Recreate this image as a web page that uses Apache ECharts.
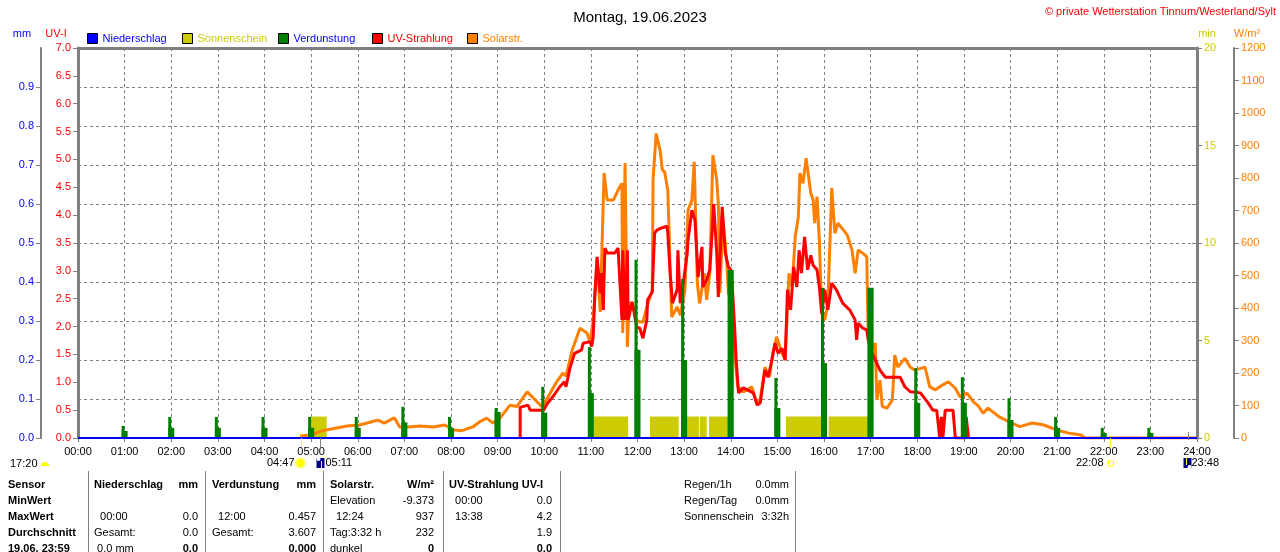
<!DOCTYPE html>
<html>
<head>
<meta charset="utf-8">
<title>Montag, 19.06.2023</title>
<script src="https://cdn.jsdelivr.net/npm/echarts@6/dist/echarts.min.js"></script>
<style>
    html, body { margin: 0; padding: 0; background: #fff; }
    #chart { width: 1280px; height: 552px; }
</style>
</head>
<body>
<div id="chart"></div>
<script>
// Texte
var titelText = 'Montag, 19.06.2023';
var copyrightText = '\u00a9 private Wetterstation Tinnum/Westerland/Sylt';
var tageslaenge = '17:20';

// Niederschlag (mm), [Zeit, Wert]
var niederschlag = [['00:00', 0], ['24:00', 0]];

// Verdunstung (mm) je Stunde, schmaler Balken und breiter Sockel
var verdunstung = [
    ['01:00', 0.031], ['02:00', 0.054], ['03:00', 0.054], ['04:00', 0.054], ['05:00', 0.054],
    ['06:00', 0.054], ['07:00', 0.080], ['08:00', 0.054], ['09:00', 0.077], ['10:00', 0.131],
    ['11:00', 0.233], ['12:00', 0.457], ['13:00', 0.408], ['14:00', 0.431], ['15:00', 0.154],
    ['16:00', 0.385], ['17:00', 0.385], ['18:00', 0.179], ['19:00', 0.156], ['20:00', 0.102],
    ['21:00', 0.054], ['22:00', 0.026], ['23:00', 0.026]
];
var verdunstungSockel = [
    ['01:00', 0.018], ['02:00', 0.026], ['03:00', 0.026], ['04:00', 0.026], ['05:00', 0.026],
    ['06:00', 0.026], ['07:00', 0.040], ['08:00', 0.026], ['09:00', 0.067], ['10:00', 0.065],
    ['11:00', 0.115], ['12:00', 0.226], ['13:00', 0.200], ['14:00', 0.431], ['15:00', 0.077],
    ['16:00', 0.192], ['17:00', 0.385], ['18:00', 0.090], ['19:00', 0.090], ['20:00', 0.046],
    ['21:00', 0.026], ['22:00', 0.013], ['23:00', 0.013]
];

// Sonnenschein (min), [von, bis, Wert]
var sonnenschein = [
    ['05:00', '05:20', 1.1], ['11:04', '11:48', 1.1], ['12:16', '12:53', 1.1], ['12:56', '13:19', 1.1],
    ['13:20', '13:29', 1.1], ['13:32', '13:58', 1.1], ['15:11', '16:03', 1.1], ['16:06', '16:58', 1.1]
];

// UV-Strahlung (UV-I), [Zeit, Wert]
var uvStrahlung = [
    ['09:29', 0], ['09:29', 0.55], ['09:39', 0.59], ['09:42', 0.5], ['09:59', 0.5], ['10:04', 0.62],
    ['10:11', 0.74], ['10:20', 0.92], ['10:26', 1.01], ['10:28', 0.92], ['10:33', 1.25], ['10:39', 1.52],
    ['10:48', 1.58], ['10:50', 1.7], ['10:59', 1.73], ['11:01', 1.64], ['11:03', 1.82], ['11:05', 2.53],
    ['11:08', 3.25], ['11:12', 2.6], ['11:14', 2.96], ['11:16', 2.3], ['11:18', 3.41], ['11:21', 3.32],
    ['11:31', 3.32], ['11:35', 3.41], ['11:40', 2.12], ['11:41', 3.37], ['11:44', 2.12], ['11:47', 3.37],
    ['11:48', 2.12], ['11:53', 2.44], ['11:55', 2.3], ['11:59', 1.99], ['12:03', 1.97], ['12:07', 1.79],
    ['12:12', 2.12], ['12:13', 2.48], ['12:19', 2.62], ['12:22', 3.68], ['12:25', 3.73], ['12:31', 3.77],
    ['12:38', 3.8], ['12:39', 3.68], ['12:42', 2.96], ['12:45', 2.42], ['12:51', 2.66], ['12:52', 3.37],
    ['12:55', 2.42], ['12:59', 2.78], ['13:04', 3.32], ['13:05', 3.55], ['13:10', 4.09], ['13:14', 3.91],
    ['13:18', 2.89], ['13:23', 3.43], ['13:24', 2.71], ['13:29', 2.84], ['13:33', 3.02], ['13:36', 3.68],
    ['13:38', 4.2], ['13:42', 3.32], ['13:44', 2.53], ['13:49', 4.15], ['13:53', 3.32], ['13:57', 3.07],
    ['14:00', 3.02], ['14:02', 2.71], ['14:05', 1.99], ['14:07', 1.4], ['14:10', 0.81], ['14:16', 0.9],
    ['14:22', 0.86], ['14:29', 0.81], ['14:34', 0.59], ['14:38', 0.63], ['14:44', 1.22], ['14:48', 1.09],
    ['14:53', 1.4], ['14:57', 1.7], ['15:01', 1.52], ['15:06', 1.61], ['15:10', 1.4], ['15:13', 2.66],
    ['15:17', 2.3], ['15:21', 3.07], ['15:25', 2.71], ['15:28', 3.37], ['15:31', 2.96], ['15:35', 3.61],
    ['15:39', 3.02], ['15:43', 3.28], ['15:46', 3.1], ['15:51', 3.02], ['15:54', 2.71], ['15:57', 2.24],
    ['16:01', 2.66], ['16:05', 2.3], ['16:10', 2.78], ['16:16', 2.66], ['16:24', 2.42], ['16:33', 2.3],
    ['16:40', 2.12], ['16:42', 1.76], ['16:44', 2.06], ['16:50', 1.97], ['16:55', 1.94], ['16:57', 1.76],
    ['17:02', 1.52], ['17:06', 1.4], ['17:12', 1.22], ['17:19', 1.09], ['17:38', 1.09], ['17:44', 0.92],
    ['17:51', 0.83], ['18:04', 0.81], ['18:14', 0.63], ['18:20', 0.5], ['18:25', 0.5], ['18:29', 0],
    ['18:31', 0.38], ['18:33', 0], ['18:36', 0.5], ['18:46', 0.5], ['18:49', 0], ['19:02', 0],
    ['19:03', 0.38], ['19:05', 0.38], ['19:06', 0]
];

// Solarstrahlung (W/m²), [Zeit, Wert]
var solarStrahlung = [
    ['04:46', 6], ['04:59', 9], ['05:14', 22], ['05:31', 30], ['05:46', 37], ['06:02', 40], ['06:12', 46],
    ['06:26', 55], ['06:34', 46], ['06:47', 62], ['06:54', 34], ['07:05', 34], ['07:20', 37], ['07:37', 34],
    ['07:52', 40], ['08:03', 25], ['08:13', 22], ['08:28', 34], ['08:37', 50], ['08:46', 61], ['08:54', 46],
    ['09:03', 61], ['09:16', 101], ['09:25', 97], ['09:38', 142], ['09:46', 123], ['09:57', 96], ['10:04', 123],
    ['10:16', 173], ['10:24', 200], ['10:28', 190], ['10:36', 271], ['10:46', 338], ['10:55', 323], ['10:59', 295],
    ['11:03', 363], ['11:08', 548], ['11:12', 388], ['11:17', 815], ['11:21', 732], ['11:29', 732], ['11:35', 763],
    ['11:40', 784], ['11:41', 323], ['11:44', 846], ['11:47', 280], ['11:49', 403], ['11:53', 418], ['11:59', 363],
    ['12:03', 357], ['12:07', 357], ['12:12', 403], ['12:19', 455], ['12:20', 794], ['12:24', 937], ['12:29', 886],
    ['12:32', 825], ['12:35', 818], ['12:39', 763], ['12:42', 526], ['12:44', 372], ['12:51', 403], ['12:55', 378],
    ['13:01', 455], ['13:05', 701], ['13:10', 732], ['13:13', 850], ['13:17', 476], ['13:20', 414], ['13:26', 507],
    ['13:29', 425], ['13:33', 507], ['13:37', 870], ['13:42', 794], ['13:44', 722], ['13:46', 446], ['13:50', 670],
    ['13:55', 538], ['13:57', 446], ['14:02', 403], ['14:05', 261], ['14:09', 158], ['14:16', 142], ['14:21', 148],
    ['14:27', 158], ['14:34', 105], ['14:38', 120], ['14:44', 218], ['14:50', 188], ['14:54', 261], ['14:59', 311],
    ['15:06', 261], ['15:10', 240], ['15:15', 507], ['15:19', 466], ['15:23', 620], ['15:27', 681], ['15:29', 815],
    ['15:33', 784], ['15:37', 861], ['15:39', 825], ['15:43', 753], ['15:46', 732], ['15:48', 661], ['15:51', 743],
    ['15:54', 609], ['15:57', 384], ['16:01', 363], ['16:05', 414], ['16:10', 769], ['16:14', 630], ['16:18', 661],
    ['16:30', 624], ['16:36', 579], ['16:40', 507], ['16:44', 579], ['16:50', 568], ['16:55', 558], ['16:57', 301],
    ['17:02', 271], ['17:06', 292], ['17:08', 117], ['17:12', 178], ['17:15', 97], ['17:21', 92], ['17:28', 117],
    ['17:31', 255], ['17:35', 218], ['17:44', 245], ['17:51', 218], ['17:57', 209], ['18:10', 218], ['18:16', 158],
    ['18:23', 148], ['18:29', 158], ['18:40', 173], ['18:49', 153], ['18:55', 127], ['19:04', 138], ['19:12', 112],
    ['19:19', 97], ['19:25', 76], ['19:31', 92], ['19:45', 66], ['19:58', 50], ['20:12', 35], ['20:28', 46],
    ['20:43', 40], ['20:59', 25], ['21:15', 15], ['21:31', 9], ['21:36', 0], ['24:00', 0]
];

// Sonne / Mond
var ereignisse = [
    ['04:47', 'Sonnenaufgang'], ['05:11', 'Mondaufgang'], ['22:08', 'Sonnenuntergang'], ['23:48', 'Monduntergang']
];

// Tabelle unten
var tabZeilen = ['Sensor', 'MinWert', 'MaxWert', 'Durchschnitt', '19.06. 23:59'];
var tabNiederschlag = [['Niederschlag', 'mm'], ['', ''], ['  00:00', '0.0'], ['Gesamt:', '0.0'], [' 0.0 mm', '0.0']];
var tabVerdunstung = [['Verdunstung', 'mm'], ['', ''], ['  12:00', '0.457'], ['Gesamt:', '3.607'], ['', '0.000']];
var tabSolar = [['Solarstr.', 'W/m\u00b2'], ['Elevation', '-9.373'], ['  12:24', '937'], ['Tag:3:32 h', '232'], ['dunkel', '0']];
var tabUV = [['UV-Strahlung UV-I', ''], ['  00:00', '0.0'], ['  13:38', '4.2'], ['', '1.9'], ['', '0.0']];
var tabInfo = [['Regen/1h', '0.0mm'], ['Regen/Tag', '0.0mm'], ['Sonnenschein', '3:32h']];

(function () {
    'use strict';

    var FONT = '"Liberation Sans", Arial, sans-serif';
    var GRAU = '#808080';
    var BLAU = '#0000ff';
    var GELB = '#cccc00';
    var GRUEN = '#008000';
    var ROT = '#ff0000';
    var ORANGE = '#ff8000';

    function toMin(s) {
        var p = s.split(':');
        return Number(p[0]) * 60 + Number(p[1]);
    }

    function pairs(list) {
        return list.map(function (d) { return [toMin(d[0]), d[1]]; });
    }

    function uhrzeit(v) {
        var h = Math.round(v / 60);
        return (h < 10 ? '0' : '') + h + ':00';
    }

    function txt(x, y, text, align, bold, color) {
        return {
            type: 'text', silent: true,
            style: {
                x: x, y: y, text: text,
                align: align, textAlign: align,
                verticalAlign: 'middle', textVerticalAlign: 'middle',
                font: (bold ? 'bold ' : '') + '11px ' + FONT,
                fill: color || '#000'
            }
        };
    }

    function vline(x, y1, y2, color) {
        return {
            type: 'line', silent: true,
            shape: { x1: x, y1: y1, x2: x, y2: y2 },
            style: { stroke: color, lineWidth: 1 }
        };
    }

    function buildTable() {
        var rowsY = [485, 500.5, 516.5, 532.5, 548.5];
        var els = [];
        var cols = [
            { data: tabNiederschlag, l: 94, r: 198 },
            { data: tabVerdunstung, l: 212, r: 316 },
            { data: tabSolar, l: 330, r: 434 },
            { data: tabUV, l: 449, r: 552 }
        ];
        [88.5, 205.5, 323.5, 443.5, 560.5, 795.5].forEach(function (x) {
            els.push(vline(x, 471, 552, GRAU));
        });
        tabZeilen.forEach(function (t, i) {
            els.push(txt(8, rowsY[i], t, 'left', true));
        });
        cols.forEach(function (c) {
            c.data.forEach(function (row, i) {
                var last = i === c.data.length - 1;
                els.push(txt(c.l, rowsY[i], row[0], 'left', i === 0));
                els.push(txt(c.r, rowsY[i], row[1], 'right', i === 0 || last));
            });
        });
        tabInfo.forEach(function (row, i) {
            els.push(txt(684, rowsY[i], row[0], 'left', false));
            els.push(txt(789, rowsY[i], row[1], 'right', false));
        });
        return els;
    }

    function renderSonne(params, api) {
        var p0 = api.coord([api.value(0), api.value(2)]);
        var p1 = api.coord([api.value(1), 0]);
        return {
            type: 'rect',
            shape: { x: p0[0], y: p0[1], width: p1[0] - p0[0], height: p1[1] - p0[1] },
            style: { fill: GELB }
        };
    }

    function renderEreignis(params, api) {
        var e = ereignisse[params.dataIndex];
        var p = api.coord([api.value(0), 0]);
        var x = Math.round(p[0]) + 0.5;
        var y = p[1];
        var iy = y + 25;
        var sonne = e[1].indexOf('Sonne') === 0;
        var auf = e[1].indexOf('aufgang') > 0;
        var children = [];
        if (sonne) {
            children.push(vline(x, y, y + 9, '#ffff00'));
            if (auf) {
                children.push({ type: 'circle', shape: { cx: x - 1, cy: iy, r: 5 }, style: { fill: '#ffff00', stroke: '#ffff99', lineWidth: 2 } });
                children.push(txt(x - 7, iy, e[0], 'right', false));
            } else {
                children.push({ type: 'rect', shape: { x: x - 2, y: iy - 2, width: 5, height: 5 }, style: { fill: '#fff', stroke: '#ffff00', lineWidth: 1 } });
                children.push(txt(x - 7, iy, e[0], 'right', false));
            }
        } else {
            if (auf) {
                children.push(vline(x, y, y + 9, GRAU));
                children.push({ type: 'rect', shape: { x: x - 4, y: iy - 5, width: 8, height: 10 }, style: { fill: '#000080' } });
                children.push({ type: 'circle', shape: { cx: x - 2, cy: iy - 4, r: 2 }, style: { fill: '#fff' } });
                children.push(vline(x + 1, iy - 2, iy + 5, '#ffff00'));
                children.push(txt(x + 5, iy, e[0], 'left', false));
            } else {
                children.push(vline(x, y - 6, y + 2, GRAU));
                children.push({ type: 'rect', shape: { x: x - 5, y: iy - 5, width: 8, height: 10 }, style: { fill: '#000080' } });
                children.push({ type: 'circle', shape: { cx: x + 1, cy: iy + 4, r: 2 }, style: { fill: '#fff' } });
                children.push(vline(x - 2, iy - 5, iy + 2, '#ffff00'));
                children.push(txt(x + 3, iy, e[0], 'left', false));
            }
        }
        return { type: 'group', children: children };
    }

    function yAchse(o) {
        return {
            type: 'value',
            position: o.pos,
            offset: o.offset,
            min: o.min, max: o.max, interval: o.interval,
            name: o.name,
            nameLocation: 'end',
            nameGap: 9,
            nameTextStyle: { color: o.color, fontSize: 11, fontFamily: FONT, align: 'center', padding: o.namePad },
            axisLine: { show: true, onZero: false, lineStyle: { color: GRAU, width: o.lineWidth } },
            axisTick: { show: true, length: 5, lineStyle: { color: GRAU } },
            axisLabel: {
                color: o.color, fontSize: 11, fontFamily: FONT, margin: 7,
                showMaxLabel: o.showMax,
                formatter: o.fmt
            },
            splitLine: o.split ? { show: true, lineStyle: { color: GRAU, type: [3, 3], width: 1 } } : { show: false }
        };
    }

    // eine Legende je Eintrag, feste Raster-Abstände wie im Original
    function legende(left, name, farbe, textFarbe) {
        return {
            left: left,
            top: 28,
            icon: 'rect',
            itemWidth: 10,
            itemHeight: 10,
            selectedMode: false,
            textStyle: { fontSize: 11, fontFamily: FONT, color: textFarbe },
            data: [{ name: name, itemStyle: { color: farbe, borderColor: '#000', borderWidth: 1 } }]
        };
    }

    var chart = echarts.init(document.getElementById('chart'));

    var option = {
        backgroundColor: '#fff',
        animation: false,
        title: {
            text: titelText,
            left: 'center',
            top: 5,
            textStyle: { fontSize: 15, fontWeight: 'normal', color: '#000', fontFamily: FONT }
        },
        legend: [
            legende(82, 'Niederschlag', BLAU, BLAU),
            legende(177, 'Sonnenschein', GELB, GELB),
            legende(273, 'Verdunstung', GRUEN, BLAU),
            legende(367, 'UV-Strahlung', ROT, ROT),
            legende(462, 'Solarstr.', ORANGE, ORANGE)
        ],
        grid: { left: 78, right: 83, top: 48, bottom: 114, containLabel: false },
        xAxis: [{
            type: 'value', min: 0, max: 1440, interval: 60,
            axisLine: { onZero: false, lineStyle: { color: GRAU } },
            axisTick: { length: 4, lineStyle: { color: GRAU } },
            axisLabel: { color: '#000', fontSize: 11, fontFamily: FONT, margin: 8, formatter: uhrzeit },
            splitLine: { show: true, lineStyle: { color: GRAU, type: [3, 3], width: 1 } }
        }, {
            type: 'value', min: 0, max: 1440, position: 'top',
            axisLine: { onZero: false, lineStyle: { color: GRAU, width: 3 } },
            axisTick: { show: false }, axisLabel: { show: false }, splitLine: { show: false }
        }],
        yAxis: [
            yAchse({ pos: 'left', offset: 37, min: 0, max: 1, interval: 0.1, name: 'mm', color: BLAU,
                namePad: [0, 38, 0, 0], lineWidth: 2, showMax: false, split: true,
                fmt: function (v) { return v.toFixed(1); } }),
            yAchse({ pos: 'left', offset: 0, min: 0, max: 7, interval: 0.5, name: 'UV-I', color: ROT,
                namePad: [0, 44, 0, 0], lineWidth: 3, showMax: true, split: false,
                fmt: function (v) { return v.toFixed(1); } }),
            yAchse({ pos: 'right', offset: 0, min: 0, max: 20, interval: 5, name: 'min', color: GELB,
                namePad: [0, 0, 0, 20], lineWidth: 3, showMax: true, split: false,
                fmt: function (v) { return String(v); } }),
            yAchse({ pos: 'right', offset: 37, min: 0, max: 1200, interval: 100, name: 'W/m\u00b2', color: ORANGE,
                namePad: [0, 0, 0, 26], lineWidth: 2, showMax: true, split: false,
                fmt: function (v) { return String(v); } }),
            {
                type: 'value', position: 'right', offset: 0, min: 0, max: 1, interval: 0.1,
                axisLine: { show: false, onZero: false },
                axisTick: { show: true, inside: true, length: 5, lineStyle: { color: GRAU } },
                axisLabel: { show: false }, splitLine: { show: false }
            }
        ],
        graphic: [
            txt(1276, 12, copyrightText, 'right', false, ROT),
            txt(10, 464, tageslaenge, 'left', false),
            {
                type: 'sector', silent: true,
                shape: { cx: 45, cy: 466, r0: 0, r: 4, startAngle: Math.PI, endAngle: Math.PI * 2 },
                style: { fill: '#ffff00' }
            }
        ].concat(buildTable()),
        series: [
            {
                name: 'Sonnenschein', type: 'custom', yAxisIndex: 2, z: 1,
                itemStyle: { color: GELB },
                renderItem: renderSonne,
                encode: { x: [0, 1], y: 2 },
                data: sonnenschein.map(function (d) { return [toMin(d[0]), toMin(d[1]), d[2]]; })
            },
            {
                name: 'Solarstr.', type: 'line', yAxisIndex: 3, z: 2,
                symbol: 'none', color: ORANGE,
                lineStyle: { width: 3, color: ORANGE },
                data: pairs(solarStrahlung)
            },
            {
                name: 'UV-Strahlung', type: 'line', yAxisIndex: 1, z: 3,
                symbol: 'none', color: ROT,
                lineStyle: { width: 3, color: ROT },
                data: pairs(uvStrahlung)
            },
            {
                name: 'Verdunstung', type: 'bar', yAxisIndex: 0, z: 4,
                barWidth: 3, barGap: '-100%', color: GRUEN,
                data: pairs(verdunstung)
            },
            {
                name: 'Verdunstung', type: 'bar', yAxisIndex: 0, z: 4,
                barWidth: 6, barGap: '-100%', color: GRUEN,
                data: pairs(verdunstungSockel)
            },
            {
                name: 'Niederschlag', type: 'line', yAxisIndex: 0, z: 5,
                symbol: 'none', color: BLAU,
                lineStyle: { width: 2, color: BLAU },
                data: pairs(niederschlag)
            },
            {
                name: 'Ereignisse', type: 'custom', yAxisIndex: 0, z: 6,
                silent: true, clip: false,
                renderItem: renderEreignis,
                data: ereignisse.map(function (e) { return [toMin(e[0]), 0]; })
            }
        ]
    };

    chart.setOption(option);
})();
</script>
</body>
</html>
